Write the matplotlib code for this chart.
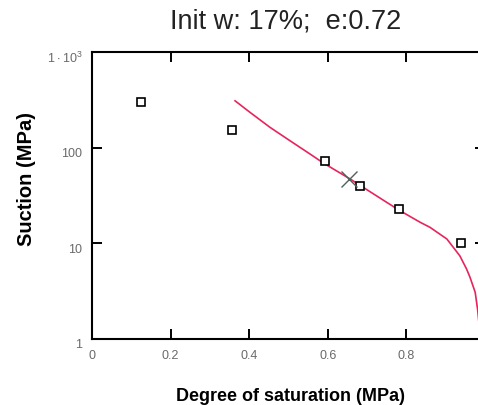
import matplotlib

matplotlib.use("Agg")
import matplotlib.pyplot as plt
from matplotlib.ticker import FixedLocator, FixedFormatter, NullLocator
from matplotlib.transforms import ScaledTranslation

# measured points (degree of saturation, suction MPa)
sat_points = [0.124, 0.356, 0.594, 0.681, 0.78, 0.94]
suction_points = [302, 154, 73, 40, 22.6, 10]

# initial state marker
init_sat = [0.655]
init_suction = [47.5]

# fitted retention curve
curve_sat = [0.364, 0.402, 0.453, 0.504, 0.555, 0.589, 0.657, 0.690, 0.750,
             0.784, 0.835, 0.860, 0.903, 0.936, 0.953, 0.962, 0.975, 0.981,
             0.986, 0.990]
curve_suction = [309, 234, 163, 118, 85.7, 69, 47, 38.5, 26.8,
                 21.9, 16.6, 14.7, 11.1, 7.4, 5.4, 4.4, 3.08, 2.06,
                 1.3, 1.0]

x_ticks = [0, 0.2, 0.4, 0.6, 0.8]
x_labels = ["0", "0.2", "0.4", "0.6", "0.8"]
y_ticks = [1, 10, 100, 1000]
y_labels = ["1", "10", "100", r"$1\cdot10^{3}$"]

plt.rcParams["font.family"] = ["Liberation Sans", "DejaVu Sans"]
plt.rcParams["mathtext.fontset"] = "custom"
plt.rcParams["mathtext.rm"] = "Liberation Sans"

W, H = 478, 406
fig = plt.figure(figsize=(W / 100, H / 100), dpi=100)
left, right, top, bottom = 92, 485, 53, 340
ax = fig.add_axes([left / W, (H - bottom) / H, (right - left) / W, (bottom - top) / H])

ax.plot(curve_sat, curve_suction, color="#e8245c", linewidth=1.2, zorder=2)
ax.plot(sat_points, suction_points, linestyle="none", marker="s", markersize=5.8,
        markerfacecolor="white", markeredgecolor="black", markeredgewidth=1.2, zorder=3)
ax.plot(init_sat, init_suction, linestyle="none", marker="x", markersize=11,
        color="#55605a", markeredgewidth=1.0, zorder=4)

ax.set_yscale("log")
ax.set_xlim(0, 1.0)
ax.set_ylim(1, 1000)
ax.xaxis.set_major_locator(FixedLocator(x_ticks))
ax.xaxis.set_major_formatter(FixedFormatter(x_labels))
ax.yaxis.set_major_locator(FixedLocator(y_ticks))
ax.yaxis.set_major_formatter(FixedFormatter(y_labels))
ax.yaxis.set_minor_locator(NullLocator())

for s in ax.spines.values():
    s.set_linewidth(1.5)
ax.tick_params(direction="in", length=7.5, width=1.4, top=True, right=True,
               labelsize=9, labelcolor="#6a6a6a", pad=7)
# y labels sit a little below their ticks in the reference
shift = ScaledTranslation(0, -4 / 100, fig.dpi_scale_trans)
for lab in ax.get_yticklabels():
    lab.set_transform(lab.get_transform() + shift)

ax.set_xlabel("Degree of saturation (MPa)", fontsize=13, fontweight="bold")
ax.xaxis.set_label_coords(0.504, -0.167)
ax.set_ylabel("Suction (MPa)", fontsize=14.5, fontweight="bold")
ax.yaxis.set_label_coords(-0.143, 0.56)
fig.text(286 / W, 1 - 22 / H, "Init w: 17%;  e:0.72", fontsize=19.5, ha="center",
         va="center", color="#222222")

fig.savefig("out.png", dpi=100)
